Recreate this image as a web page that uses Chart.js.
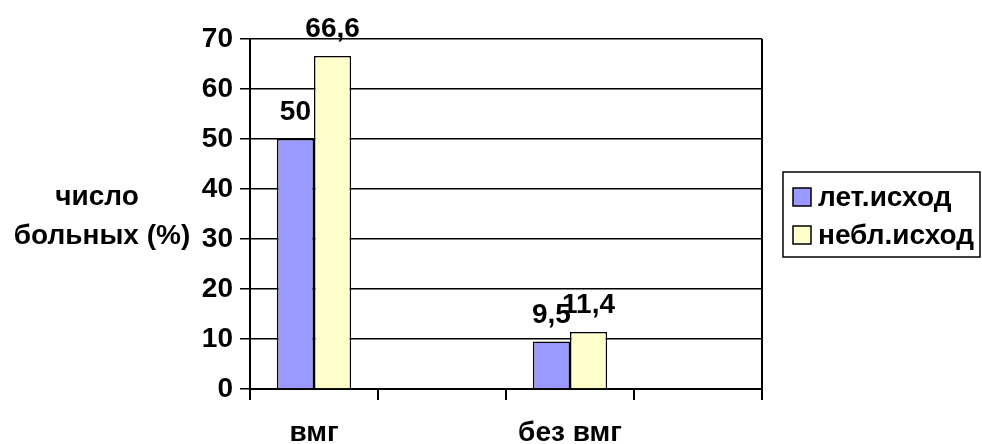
<!DOCTYPE html>
<html>
<head>
<meta charset="utf-8">
<script src="https://cdn.jsdelivr.net/npm/chart.js@4"></script>
<style>
  html, body { margin: 0; padding: 0; background: #fff; }
  #wrap { width: 982px; height: 444px; }
</style>
</head>
<body>
<div id="wrap"><canvas id="c" width="982" height="444"></canvas></div>
<script>
const categories = ["вмг", "", "без вмг", ""];
const letIshod = [50, null, 9.5, null];
const neblIshod = [66.6, null, 11.4, null];
const seriesNames = ["лет.исход", "небл.исход"];
const yTitleLines = ["число", "больных (%)"];
const yTicks = [0, 10, 20, 30, 40, 50, 60, 70];

const FONT = "'Liberation Sans', Arial, sans-serif";
const FS = 28;
const FW = 'bold';

const valueLabels = {
  id: 'valueLabels',
  afterDatasetsDraw(chart) {
    const ctx = chart.ctx;
    ctx.save();
    ctx.font = FW + ' ' + FS + 'px ' + FONT;
    ctx.fillStyle = '#000';
    ctx.textAlign = 'center';
    ctx.textBaseline = 'alphabetic';
    chart.data.datasets.forEach((ds, di) => {
      const meta = chart.getDatasetMeta(di);
      meta.data.forEach((bar, i) => {
        const v = ds.data[i];
        if (v === null || v === undefined) return;
        ctx.fillText(String(v).replace('.', ','), bar.x, bar.y - 19);
      });
    });
    ctx.restore();
  }
};

const decorations = {
  id: 'decorations',
  afterDraw(chart) {
    const ctx = chart.ctx;
    const a = chart.chartArea;
    ctx.save();
    ctx.strokeStyle = '#000';
    ctx.lineWidth = 2;
    ctx.beginPath();
    ctx.moveTo(a.right, a.top);
    ctx.lineTo(a.right, a.bottom + 11);
    ctx.stroke();
    ctx.font = FW + ' ' + FS + 'px ' + FONT;
    ctx.fillStyle = '#000';
    ctx.textAlign = 'center';
    ctx.textBaseline = 'middle';
    ctx.fillText(yTitleLines[0], 97, 197);
    ctx.fillText(yTitleLines[1], 102, 236);
    const lx = 783, ly = 172, lw = 197, lh = 85;
    ctx.lineWidth = 1.5;
    ctx.strokeRect(lx, ly, lw, lh);
    ctx.textAlign = 'left';
    chart.data.datasets.forEach((ds, i) => {
      const cy = 197 + i * 38;
      ctx.fillStyle = ds.backgroundColor;
      ctx.fillRect(793, cy - 9, 18, 18);
      ctx.lineWidth = 1.5;
      ctx.strokeRect(793, cy - 9, 18, 18);
      ctx.fillStyle = '#000';
      ctx.fillText(ds.label, 818, cy + 1);
    });
    ctx.restore();
  }
};

new Chart(document.getElementById('c'), {
  type: 'bar',
  data: {
    labels: categories,
    datasets: [
      { label: seriesNames[0], data: letIshod, backgroundColor: '#9999FF', borderColor: '#000', borderWidth: 1.5 },
      { label: seriesNames[1], data: neblIshod, backgroundColor: '#FFFFCC', borderColor: '#000', borderWidth: 1.5 }
    ]
  },
  options: {
    responsive: false,
    animation: false,
    events: [],
    layout: { padding: { left: 0, right: 220, top: 39, bottom: 0 } },
    datasets: { bar: { categoryPercentage: 0.58, barPercentage: 1.0 } },
    plugins: {
      legend: { display: false },
      tooltip: { enabled: false },
      title: { display: false }
    },
    scales: {
      x: {
        offset: true,
        grid: { offset: true, drawOnChartArea: false, drawTicks: true, tickLength: 11, color: '#000', lineWidth: 2 },
        border: { display: true, color: '#000', width: 2 },
        ticks: { color: '#000', font: { family: FONT, size: FS, weight: FW, lineHeight: 1.0 }, padding: 19, maxRotation: 0, autoSkip: false },
        afterFit(s) { s.height = 55; }
      },
      y: {
        min: 0, max: 70,
        afterBuildTicks(s) { s.ticks = yTicks.map(v => ({ value: v })); },
        grid: { color: '#000', lineWidth: 1.5, tickLength: 10, drawTicks: true },
        border: { display: true, color: '#000', width: 2 },
        ticks: { color: '#000', font: { family: FONT, size: FS, weight: FW }, padding: 7 },
        afterFit(s) { s.width = 250; }
      }
    }
  },
  plugins: [valueLabels, decorations]
});
</script>
</body>
</html>
